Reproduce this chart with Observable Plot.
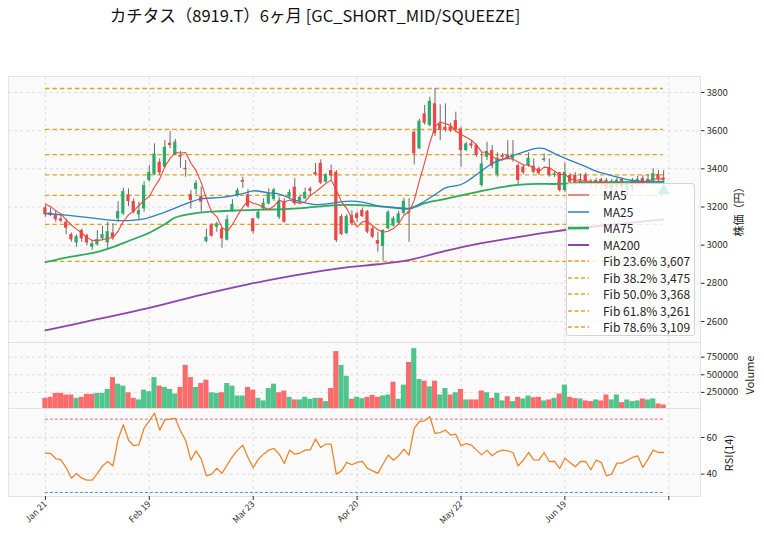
<!DOCTYPE html>
<html><head><meta charset="utf-8">
<script src="https://cdn.jsdelivr.net/npm/d3@7"></script>
<script src="https://cdn.jsdelivr.net/npm/@observablehq/plot@0.6"></script>
<style>
body{margin:0;background:#fff;}
#wrap{position:relative;width:764px;height:539px;overflow:hidden;font-family:"Noto Sans CJK JP","Noto Sans",sans-serif;color:#222;}
#wrap svg{position:absolute;left:0;overflow:visible;}
.lbl{position:absolute;white-space:nowrap;transform:translate(-50%,-50%) rotate(-90deg);color:#222;}
#title{position:absolute;top:4px;left:315px;transform:translateX(-50%);font-size:16.5px;line-height:22px;white-space:nowrap;color:#111;}
#legend{position:absolute;left:566px;top:183px;width:129px;height:153px;box-sizing:border-box;background:rgba(255,255,255,0.8);border:1px solid #d4d4d4;border-radius:3px;z-index:5;}
.li{position:absolute;left:0;height:16px;width:128px;font-size:12px;line-height:16px;}
.li svg{position:absolute;left:5px;top:5px;}
.li span{position:absolute;left:36px;top:0;white-space:nowrap;}
</style></head><body><div id="wrap"></div>
<script>
// ---- data ----
const open  = [3196,3170,3155,3138,3120,3056,3012,3077,3050,2989,3001,3033,3012,3064,3138,3164,3264,3229,3159,3190,3339,3370,3435,3409,3534,3473,3470,3403,3265,3292,3255,3019,3106,3094,3085,3026,3181,3260,3339,3264,3138,3141,3190,3216,3239,3146,3229,3251,3304,3230,3243,3295,3381,3429,3330,3391,3382,3150,3061,3155,3164,3182,3176,3086,3024,2993,3086,3100,3115,3167,3175,3592,3505,3688,3627,3741,3636,3618,3620,3653,3609,3496,3531,3522,3312,3461,3496,3368,3470,3473,3452,3417,3409,3417,3414,3400,3444,3403,3365,3379,3286,3365,3365,3344,3368,3335,3326,3344,3340,3295,3310,3345,3290,3300,3325,3350,3325,3335,3370,3352];
const high  = [3208,3194,3181,3164,3138,3064,3054,3085,3059,3019,3077,3099,3120,3112,3229,3298,3295,3243,3225,3333,3417,3531,3452,3548,3595,3554,3491,3444,3286,3339,3304,3085,3112,3120,3094,3155,3239,3298,3356,3292,3141,3181,3243,3295,3298,3251,3243,3290,3348,3262,3300,3305,3428,3447,3375,3420,3391,3160,3160,3180,3175,3195,3182,3100,3068,3082,3180,3150,3178,3245,3244,3600,3660,3732,3775,3821,3735,3741,3640,3697,3618,3540,3545,3530,3487,3540,3522,3484,3480,3548,3548,3426,3420,3484,3452,3410,3478,3452,3385,3382,3431,3375,3380,3374,3379,3345,3350,3351,3350,3345,3350,3350,3330,3350,3360,3365,3370,3400,3391,3390];
const low   = [3146,3150,3120,3117,3054,3016,2989,3016,2998,2972,2995,3024,2981,3024,3120,3155,3202,3164,3134,3173,3330,3365,3365,3403,3505,3470,3403,3356,3190,3264,3173,3012,3042,3068,2984,3022,3173,3251,3298,3194,3059,3134,3181,3211,3229,3134,3115,3245,3208,3222,3238,3262,3362,3318,3325,3340,3014,3050,3055,3100,3120,3145,3060,3035,2963,2918,3080,3095,3110,3160,3015,3421,3500,3630,3620,3570,3548,3592,3590,3590,3409,3490,3505,3460,3304,3444,3400,3356,3440,3450,3435,3312,3370,3409,3374,3365,3435,3356,3355,3278,3278,3315,3310,3320,3320,3300,3290,3290,3280,3275,3290,3270,3260,3280,3310,3315,3315,3325,3330,3330];
const close = [3159,3155,3133,3126,3089,3028,3045,3033,3012,3008,3029,3056,3071,3038,3176,3281,3229,3173,3181,3312,3382,3478,3379,3513,3522,3540,3461,3396,3234,3325,3225,3042,3047,3112,3033,3134,3213,3286,3330,3202,3071,3173,3220,3269,3290,3230,3120,3277,3217,3251,3277,3282,3368,3325,3369,3362,3024,3056,3150,3112,3140,3150,3068,3042,3005,3077,3173,3140,3164,3230,3165,3479,3650,3639,3754,3584,3601,3603,3598,3604,3496,3531,3519,3470,3426,3491,3414,3456,3460,3455,3470,3339,3379,3456,3382,3374,3452,3365,3374,3286,3382,3330,3326,3335,3330,3325,3339,3326,3300,3335,3340,3305,3320,3340,3345,3330,3345,3375,3345,3340];
const volume = [166000,180000,236000,236000,213000,213000,166000,180000,222000,222000,236000,236000,292000,460000,367000,339000,245000,166000,143000,283000,259000,460000,339000,320000,292000,227000,320000,633000,460000,320000,376000,423000,245000,236000,245000,376000,339000,199000,199000,320000,283000,166000,129000,306000,367000,245000,269000,180000,143000,143000,180000,152000,166000,166000,119000,306000,829000,633000,479000,152000,180000,161000,180000,208000,180000,199000,213000,395000,152000,353000,675000,871000,432000,409000,329000,409000,213000,306000,213000,245000,292000,143000,143000,143000,269000,245000,166000,236000,129000,189000,119000,180000,157000,199000,175000,180000,129000,143000,166000,227000,353000,180000,161000,157000,129000,119000,143000,129000,213000,143000,213000,105000,143000,119000,129000,157000,143000,157000,86000,72000];
const rsi = [51.5,51.3,48.5,47.8,43.6,37.8,40.4,37.8,36.7,36.7,40.4,44.5,46.9,44.5,59.1,66.9,58.5,55.5,56.0,65.1,69.1,73.3,64.0,69.6,70.0,70.4,63.6,58.5,47.6,52.7,48.2,39.1,40.0,43.3,40.4,45.1,49.5,53.1,55.8,49.1,43.5,48.2,50.9,53.1,54.0,50.9,45.8,53.1,50.9,51.5,53.1,53.3,59.1,54.5,56.4,56.4,40.0,41.8,46.4,45.1,46.4,46.9,43.1,41.8,40.4,45.5,50.4,47.6,50.0,53.6,50.4,65.1,68.7,69.1,71.3,62.2,62.7,64.0,61.3,61.8,55.5,56.7,55.8,53.1,50.5,53.1,50.0,52.2,53.1,52.7,51.8,44.5,47.6,51.8,47.8,47.6,51.8,46.9,46.9,43.1,48.7,46.4,44.0,46.9,46.9,42.4,47.6,46.4,39.1,40.0,46.0,46.0,47.6,49.1,50.0,43.6,48.2,53.1,51.8,51.8];
const ma5 = [3216,3202,3181,3164,3132,3106,3084,3064,3041,3025,3025,3028,3035,3040,3074,3124,3159,3179,3208,3235,3255,3305,3346,3413,3455,3486,3483,3486,3431,3391,3328,3244,3175,3150,3092,3074,3108,3156,3199,3233,3220,3212,3199,3187,3205,3236,3226,3237,3227,3219,3228,3261,3279,3301,3324,3341,3290,3227,3192,3141,3096,3122,3124,3102,3081,3068,3073,3087,3112,3157,3174,3236,3338,3433,3537,3621,3646,3636,3628,3598,3580,3566,3550,3524,3488,3487,3464,3451,3449,3455,3451,3436,3421,3420,3405,3386,3409,3406,3389,3370,3372,3347,3340,3332,3341,3329,3331,3331,3324,3325,3328,3321,3320,3328,3330,3328,3336,3347,3348,3347];
const ma25Idx = [0,4,8,14,19,23,27,30,34,38,40,43,45,48,52,55,58,61,64,68,70,72,75,77,80,82,84,86,88,90,92,94,95,96,98,101,104,106,109,112,115,119];
const ma25Val = [3166,3157,3146,3129,3138,3173,3217,3243,3250,3270,3285,3274,3268,3236,3213,3219,3230,3226,3206,3196,3192,3215,3265,3300,3318,3350,3390,3428,3450,3470,3488,3505,3509,3506,3480,3444,3412,3388,3365,3344,3334,3330];
const ma75Idx = [0,4,10,13,16,20,23,25,29,33,37,42,46,50,54,58,64,70,73,77,83,89,93,99,103,109,119];
const ma75Val = [2911,2935,2965,2990,3022,3065,3110,3145,3168,3177,3182,3186,3189,3196,3206,3211,3205,3192,3220,3243,3278,3310,3320,3321,3326,3330,3333];
const ma200Idx = [0,10,20,30,39,48,58,64,70,77,83,90,96,103,109,119];
const ma200Val = [2553,2612,2672,2740,2795,2842,2884,2900,2922,2970,3006,3038,3064,3090,3108,3135];
const fibLevels = [3821,3607,3475,3368,3261,3109,2915];
const fibLegendPct = ["23.6%","38.2%","50.0%","61.8%","78.6%"];
const fibLegendVal = [3607,3475,3368,3261,3109];
const signalIdx = [119];
const signalVal = [3286];
const xTicks = [0,20,40,60,80,100,120];
const xTickLabels = ["Jan 21","Feb 19","Mar 23","Apr 20","May 22","Jun 19",""];
const priceTicks = [2600,2800,3000,3200,3400,3600,3800];
const volTicks = [250000,500000,750000];
const rsiTicks = [40,60];

// ---- styles ----
const UP="#2aad6a", DOWN="#ec4646", VUP="#4fc48c", VDOWN="#fa6b6b";
const C5="#e8483c", C25="#2f7fc0", C75="#2eaa5c", C200="#8e44ad", FIB="#daa520", CRSI="#e8862e";
const FONT='"Noto Sans CJK JP","Noto Sans",sans-serif';

const bars = close.map((c,i)=>({i, o:open[i], h:high[i], l:low[i], c, v:volume[i],
  up: c>=open[i], vup: i===0 ? c>=open[i] : c>=close[i-1], rsi: rsi[i], ma5: ma5[i]}));
const pts = (idx,val)=>idx.map((i,k)=>({i, v:val[k]}));
const labelMap = new Map(xTicks.map((t,k)=>[t,xTickLabels[k]]));

const wrap = document.getElementById("wrap");
const common = {width:764, marginLeft:8, marginRight:64,
  style:{fontFamily:FONT, fontSize:"9.6px", color:"#2b2b2b", background:"transparent", overflow:"visible"}};
const grid = {stroke:"#d6d6d6", strokeOpacity:1, strokeDasharray:"3,3", strokeWidth:0.8};
const frameBg = Plot.frame({fill:"#fafafa", stroke:"#e2e2e2"});
const yAxis = (t)=>Plot.axisY(t, {anchor:"right", tickSize:3.5, tickPadding:2.5, tickFormat:d=>String(d), label:null});

const pricePlot = Plot.plot({...common, height:266, marginTop:0, marginBottom:0,
  x:{domain:[-7.1,126.1], axis:null}, y:{domain:[2490,3884]},
  marks:[
    frameBg,
    Plot.gridX(xTicks, grid),
    Plot.gridY(priceTicks, grid),
    yAxis(priceTicks),
    Plot.ruleY(fibLevels, {x1:0, x2:119, stroke:FIB, strokeWidth:1.3, strokeDasharray:"4.5,3"}),
    Plot.ruleX(bars, {x:"i", y1:"l", y2:"h", stroke:"#6a6a6a", strokeWidth:1}),
    Plot.rect(bars, {filter:d=>d.up, x1:d=>d.i-0.31, x2:d=>d.i+0.31, y1:"o", y2:"c", fill:UP}),
    Plot.rect(bars, {filter:d=>!d.up, x1:d=>d.i-0.31, x2:d=>d.i+0.31, y1:"o", y2:"c", fill:DOWN}),
    Plot.line(pts(ma200Idx,ma200Val), {x:"i", y:"v", stroke:C200, strokeWidth:1.8, curve:"catmull-rom"}),
    Plot.line(pts(ma75Idx,ma75Val), {x:"i", y:"v", stroke:C75, strokeWidth:1.8, curve:"catmull-rom"}),
    Plot.line(pts(ma25Idx,ma25Val), {x:"i", y:"v", stroke:C25, strokeWidth:1.3, curve:"catmull-rom"}),
    Plot.line(bars, {x:"i", y:"ma5", stroke:C5, strokeWidth:1.1}),
    Plot.dot(pts(signalIdx,signalVal), {x:"i", y:"v", symbol:"triangle", r:4.6, fill:"#2eb872", stroke:"none"})
  ]});
pricePlot.style.top="76px"; wrap.appendChild(pricePlot);

const volPlot = Plot.plot({...common, height:66, marginTop:0, marginBottom:0,
  x:{domain:[-7.1,126.1], axis:null}, y:{domain:[21600,958000]},
  marks:[
    frameBg,
    Plot.gridX(xTicks, grid),
    Plot.gridY(volTicks, grid),
    yAxis(volTicks),
    Plot.rect(bars, {filter:d=>d.vup, x1:d=>d.i-0.49, x2:d=>d.i+0.49, y1:21600, y2:"v", fill:VUP}),
    Plot.rect(bars, {filter:d=>!d.vup, x1:d=>d.i-0.49, x2:d=>d.i+0.49, y1:21600, y2:"v", fill:VDOWN})
  ]});
volPlot.style.top="342px"; wrap.appendChild(volPlot);

const rsiPlot = Plot.plot({...common, height:131, marginTop:0, marginBottom:43,
  x:{domain:[-7.1,126.1]}, y:{domain:[27.8,75.8]},
  marks:[
    frameBg,
    Plot.gridX(xTicks, grid),
    Plot.gridY(rsiTicks, grid),
    yAxis(rsiTicks),
    Plot.ruleY([70], {x1:0, x2:119, stroke:"#d65454", strokeWidth:1, strokeDasharray:"3,2", strokeOpacity:0.85}),
    Plot.ruleY([30], {x1:0, x2:119, stroke:"#3b7bbf", strokeWidth:1, strokeDasharray:"3,2", strokeOpacity:0.85}),
    Plot.line(bars, {x:"i", y:"rsi", stroke:CRSI, strokeWidth:1.3}),
    Plot.axisX(xTicks, {anchor:"bottom", tickSize:4, tickPadding:2, tickRotate:-45, fontSize:8.7, tickFormat:d=>labelMap.get(d), label:null})
  ]});
rsiPlot.style.top="408px"; wrap.appendChild(rsiPlot);

// ---- title, labels, legend ----
const title = document.createElement("div");
title.id="title"; title.textContent="カチタス（8919.T）6ヶ月 [GC_SHORT_MID/SQUEEZE]";
wrap.appendChild(title);

function vlabel(text, x, y, size){
  const d=document.createElement("div"); d.className="lbl"; d.textContent=text;
  d.style.left=x+"px"; d.style.top=y+"px"; d.style.fontSize=size+"px"; wrap.appendChild(d);
}
vlabel("株価（円）", 738, 209, 11);
vlabel("Volume", 749, 375, 11);
vlabel("RSI(14)", 728, 453, 11);

const legendItems = [
  {label:"MA5", color:C5, w:1.3, dash:null},
  {label:"MA25", color:C25, w:1.5, dash:null},
  {label:"MA75", color:C75, w:2.6, dash:null},
  {label:"MA200", color:C200, w:2, dash:null},
  ...fibLegendPct.map((p,k)=>({label:`Fib ${p} ${fibLegendVal[k].toLocaleString("en-US")}`, color:FIB, w:1.3, dash:"4,2.5"}))
];
const lg=document.createElement("div"); lg.id="legend";
legendItems.forEach((it,k)=>{
  const row=document.createElement("div"); row.className="li"; row.style.top=(3+16.5*k)+"px";
  row.innerHTML=`<svg width="24" height="6"><line x1="1" y1="3" x2="22" y2="3" stroke="${it.color}" stroke-width="${it.w}" ${it.dash?`stroke-dasharray="${it.dash}"`:""}/></svg><span>${it.label}</span>`;
  lg.appendChild(row);
});
wrap.appendChild(lg);
</script></body></html>
